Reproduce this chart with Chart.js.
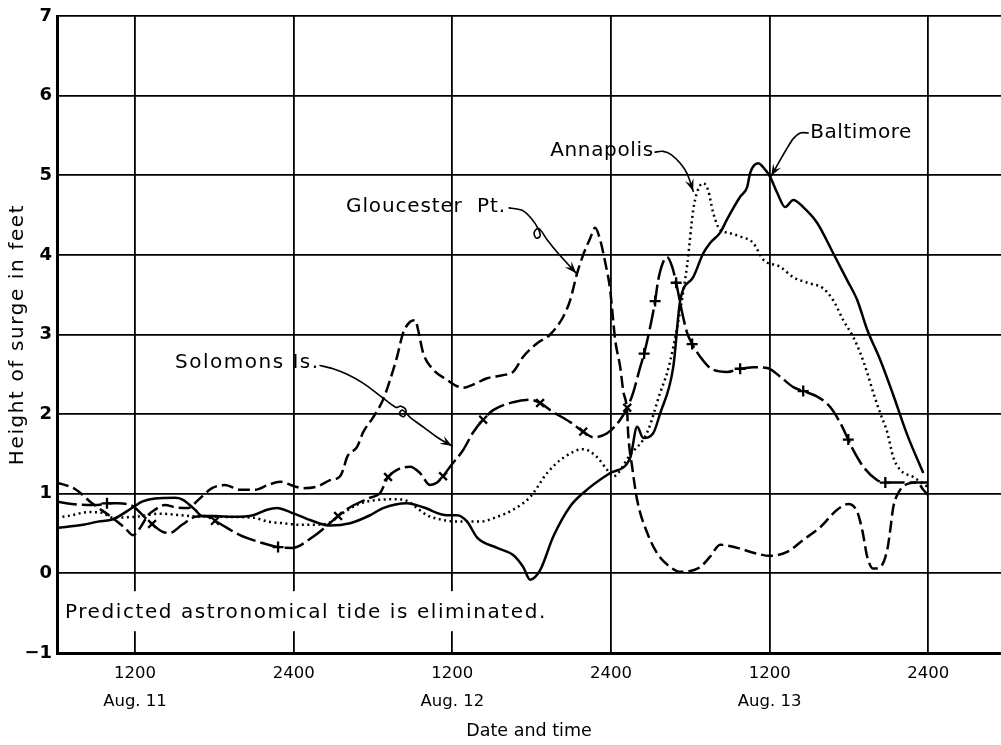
<!DOCTYPE html>
<html><head><meta charset="utf-8">
<script src="https://cdn.jsdelivr.net/npm/chart.js@4.4.1/dist/chart.umd.min.js"></script>
<style>html,body{margin:0;padding:0;background:#fff;}canvas{display:block;}</style>
</head><body>
<canvas id="c" width="1001" height="745"></canvas>
<script>
// ---- data (hours from 0000 Aug 11, height of surge in feet) ----
const hourTicks = [12, 24, 36, 48, 60, 72];
const timeLabels = ['1200', '2400', '1200', '2400', '1200', '2400'];
const dateLabels = ['Aug. 11', '', 'Aug. 12', '', 'Aug. 13', ''];
const yTicks = [-1, 0, 1, 2, 3, 4, 5, 6, 7];

const gloucester = [[6.10,1.14],[7.46,1.06],[8.75,0.88],[10.11,0.72],[11.24,0.57],[11.85,0.48],[12.38,0.57],[12.98,0.73],[13.51,0.80],[14.27,0.86],[15.03,0.83],[16.01,0.82],[16.77,0.92],[17.83,1.07],[18.81,1.11],[19.94,1.05],[21.08,1.05],[22.06,1.11],[22.97,1.15],[24.11,1.09],[24.71,1.07],[25.77,1.09],[26.75,1.17],[27.51,1.22],[27.74,1.30],[28.04,1.46],[28.80,1.59],[29.25,1.77],[30.01,1.96],[30.76,2.18],[31.29,2.43],[31.82,2.72],[32.28,3.02],[32.81,3.16],[33.19,3.18],[33.41,3.06],[33.79,2.77],[34.55,2.56],[35.61,2.43],[36.36,2.35],[36.82,2.33],[37.57,2.37],[38.63,2.45],[39.84,2.49],[40.60,2.53],[41.36,2.72],[42.42,2.89],[43.40,3.00],[44.38,3.22],[44.91,3.43],[45.44,3.77],[45.90,4.00],[46.43,4.21],[46.80,4.34],[47.18,4.19],[47.56,3.91],[47.94,3.56],[48.09,3.31],[48.32,2.93],[48.70,2.59],[48.92,2.30],[49.23,2.01],[49.30,1.76],[49.60,1.34],[49.98,0.92],[50.74,0.51],[51.50,0.25],[52.48,0.08],[53.24,0.02],[53.99,0.03],[54.75,0.08],[55.50,0.21],[56.26,0.36],[57.55,0.32],[58.76,0.26],[60.04,0.22],[61.33,0.27],[62.54,0.42],[63.83,0.58],[65.11,0.80],[65.95,0.87],[66.63,0.77],[67.01,0.54],[67.38,0.21],[67.84,0.06],[68.37,0.08],[68.90,0.30],[69.12,0.54],[69.35,0.83],[69.73,1.01],[70.26,1.11],[71.17,1.14],[71.62,1.05],[72.00,0.98]];

const solomons = [[6.10,0.90],[7.23,0.87],[8.44,0.86],[9.20,0.86],[9.88,0.88],[10.64,0.88],[11.77,0.85],[12.76,0.70],[13.29,0.62],[14.12,0.52],[14.65,0.51],[15.56,0.61],[16.54,0.71],[17.30,0.72],[18.05,0.66],[19.94,0.48],[21.46,0.39],[22.82,0.33],[23.88,0.32],[25.47,0.46],[26.60,0.61],[27.36,0.72],[28.27,0.83],[29.78,0.95],[30.54,1.01],[31.14,1.21],[31.82,1.30],[32.81,1.34],[33.56,1.26],[34.32,1.11],[34.85,1.14],[35.30,1.22],[35.83,1.34],[36.82,1.55],[37.57,1.77],[38.33,1.93],[39.09,2.05],[40.60,2.15],[41.89,2.18],[42.64,2.14],[43.40,2.05],[44.91,1.90],[45.90,1.78],[46.65,1.71],[47.71,1.76],[48.70,1.93],[49.23,2.08],[49.68,2.27],[50.21,2.59],[50.51,2.76],[51.12,3.22],[51.34,3.42],[51.57,3.68],[51.95,3.91],[52.25,3.97],[52.63,3.85],[52.93,3.65],[53.39,3.27],[53.76,3.02],[54.14,2.88],[54.75,2.72],[55.50,2.58],[56.79,2.53],[57.77,2.57],[58.76,2.59],[59.82,2.58],[60.80,2.47],[61.79,2.34],[62.54,2.29],[63.60,2.22],[64.58,2.09],[65.34,1.89],[65.95,1.68],[66.32,1.55],[67.08,1.34],[68.14,1.17],[68.75,1.14],[69.50,1.14],[72.00,1.14]];
const solomonsPlus = [[9.88,0.88],[22.82,0.33],[50.51,2.76],[51.34,3.42],[52.93,3.65],[54.14,2.88],[57.77,2.57],[62.54,2.29],[65.95,1.68],[68.75,1.14]];
const solomonsCross = [[13.29,0.62],[18.05,0.66],[27.36,0.72],[31.14,1.21],[35.30,1.22],[38.33,1.93],[42.64,2.14],[45.90,1.78],[49.23,2.08]];

const annapolis = [[6.10,0.70],[7.23,0.73],[8.44,0.77],[9.50,0.76],[10.34,0.70],[12.00,0.71],[13.89,0.75],[16.16,0.72],[18.43,0.71],[20.93,0.70],[22.06,0.65],[23.20,0.63],[24.48,0.61],[26.38,0.62],[27.74,0.76],[28.80,0.86],[29.78,0.91],[31.82,0.93],[32.58,0.91],[33.34,0.82],[34.09,0.73],[35.30,0.67],[36.36,0.65],[38.10,0.65],[39.39,0.71],[40.60,0.80],[41.89,0.96],[43.17,1.26],[44.38,1.45],[45.90,1.56],[46.95,1.46],[47.71,1.30],[48.17,1.22],[49.45,1.49],[50.74,1.77],[51.72,2.27],[52.25,2.52],[52.71,2.84],[53.24,3.31],[53.76,3.87],[54.22,4.56],[54.52,4.79],[54.98,4.90],[55.35,4.81],[55.73,4.53],[56.26,4.31],[56.79,4.28],[57.77,4.23],[58.76,4.15],[59.52,3.94],[60.80,3.85],[61.79,3.72],[62.84,3.65],[64.05,3.58],[64.81,3.43],[65.57,3.18],[66.32,2.97],[66.85,2.77],[67.38,2.52],[67.84,2.27],[68.37,2.01],[68.90,1.77],[69.35,1.46],[69.88,1.30],[70.86,1.21],[71.92,1.09]];

const baltimore = [[6.10,0.57],[8.07,0.61],[9.20,0.65],[10.34,0.68],[11.85,0.83],[12.53,0.90],[13.51,0.94],[15.03,0.95],[15.56,0.93],[16.54,0.80],[17.07,0.72],[18.05,0.72],[19.41,0.71],[20.93,0.73],[21.99,0.80],[22.74,0.82],[23.73,0.77],[25.24,0.67],[26.75,0.60],[28.27,0.63],[29.78,0.73],[30.76,0.82],[32.58,0.88],[33.79,0.83],[35.61,0.73],[36.36,0.73],[37.12,0.65],[37.88,0.45],[39.39,0.32],[40.60,0.23],[41.36,0.08],[41.89,-0.08],[42.64,0.04],[43.63,0.46],[44.91,0.84],[45.90,1.01],[47.94,1.26],[49.45,1.45],[49.98,1.84],[50.44,1.70],[51.19,1.76],[51.72,2.01],[52.71,2.59],[53.24,3.43],[54.22,3.72],[54.98,4.02],[55.50,4.15],[56.26,4.28],[56.79,4.45],[57.77,4.73],[58.30,4.85],[58.53,5.03],[59.14,5.15],[59.52,5.10],[60.04,4.98],[60.57,4.78],[61.18,4.60],[61.79,4.69],[62.54,4.60],[63.60,4.40],[64.81,4.02],[65.87,3.68],[66.63,3.43],[67.38,3.06],[68.37,2.68],[69.35,2.24],[70.41,1.74],[71.62,1.26]];

// ---- annotations (in data units) ----
const FONT = '"DejaVu Sans", "Liberation Sans", sans-serif';
const stationLabels = [
  {text: 'Gloucester  Pt.', from: 27.96, to: 39.99, at: 4.60},
  {text: 'Annapolis', from: 43.40, to: 51.19, at: 5.31},
  {text: 'Baltimore', from: 63.07, to: 70.72, at: 5.53},
  {text: 'Solomons Is.', from: 15.03, to: 25.85, at: 2.64}
];
const tideNote = {text: 'Predicted astronomical tide is eliminated.', from: 6.70, to: 43.02, at: -0.50};
const arrows = [
  [[40.30,4.59],[41.28,4.56],[41.96,4.46],[42.49,4.33],[42.64,4.24],[42.34,4.21],[42.19,4.28],[42.57,4.33],[43.17,4.19],[44.00,4.02],[45.37,3.77]],
  [[51.34,5.29],[51.95,5.30],[52.55,5.26],[53.24,5.15],[53.76,5.02],[54.22,4.80]],
  [[62.92,5.53],[62.31,5.53],[61.79,5.46],[61.25,5.32],[60.73,5.17],[60.12,4.99]],
  [[26.00,2.61],[26.98,2.57],[28.04,2.50],[29.25,2.39],[30.54,2.23],[31.67,2.09],[32.10,2.10],[32.50,2.05],[32.35,1.97],[32.00,2.00],[32.25,2.05],[32.81,1.96],[33.87,1.83],[34.85,1.71],[35.98,1.60]]
];

function fitText(ctx, text, x0, x1, y, size) {
  ctx.save();
  ctx.font = size + 'px ' + FONT;
  ctx.fillStyle = '#000';
  ctx.textAlign = 'left';
  ctx.textBaseline = 'middle';
  const hasLS = ('letterSpacing' in ctx);
  if (hasLS) ctx.letterSpacing = '0px';
  const w = ctx.measureText(text).width;
  if (hasLS) {
    const ls = (x1 - x0 - w) / (text.length - 1);
    ctx.letterSpacing = ls.toFixed(2) + 'px';
  }
  ctx.fillText(text, x0, y);
  ctx.restore();
}
function curve(ctx, pts) {
  ctx.beginPath();
  ctx.moveTo(pts[0][0], pts[0][1]);
  for (let i = 0; i < pts.length - 1; i++) {
    const p0 = pts[i - 1] || pts[i], p1 = pts[i], p2 = pts[i + 1], p3 = pts[i + 2] || p2;
    ctx.bezierCurveTo(p1[0] + (p2[0] - p0[0]) / 6, p1[1] + (p2[1] - p0[1]) / 6,
                      p2[0] - (p3[0] - p1[0]) / 6, p2[1] - (p3[1] - p1[1]) / 6, p2[0], p2[1]);
  }
  ctx.stroke();
}
const annot = {
  id: 'annot',
  afterLayout(chart) {
    const s = chart.scales.y;
    if (s && !s._spaced) {
      const orig = s.drawTitle;
      s.drawTitle = function () {
        const c = this.ctx;
        const has = ('letterSpacing' in c);
        const prev = has ? c.letterSpacing : null;
        if (has) c.letterSpacing = '1.6px';
        orig.apply(this, arguments);
        if (has) c.letterSpacing = prev;
      };
      s._spaced = true;
    }
  },
  beforeDatasetsDraw(chart) {
    const {ctx, scales: {x, y}} = chart;
    const x0 = x.getPixelForValue(tideNote.from), x1 = x.getPixelForValue(tideNote.to);
    const yc = y.getPixelForValue(tideNote.at);
    ctx.save();
    ctx.fillStyle = '#fff';
    ctx.fillRect(x0 - 4, yc - 22, x1 - x0 + 10, 40);
    ctx.restore();
    fitText(ctx, tideNote.text, x0, x1, yc, 20);
  },
  afterDatasetsDraw(chart) {
    const {ctx, scales: {x, y}} = chart;
    stationLabels.forEach(l => fitText(ctx, l.text, x.getPixelForValue(l.from), x.getPixelForValue(l.to), y.getPixelForValue(l.at), 20));
    ctx.save();
    ctx.strokeStyle = '#000'; ctx.fillStyle = '#000';
    ctx.lineWidth = 1.6; ctx.lineJoin = 'round'; ctx.lineCap = 'round';
    arrows.forEach(a => {
      const pts = a.map(p => [x.getPixelForValue(p[0]), y.getPixelForValue(p[1])]);
      curve(ctx, pts);
      const n = pts.length, tip = pts[n - 1], prev = pts[n - 2];
      const ang = Math.atan2(tip[1] - prev[1], tip[0] - prev[0]);
      const L = 12, W = 4.5;
      ctx.beginPath();
      ctx.moveTo(tip[0], tip[1]);
      ctx.lineTo(tip[0] - L * Math.cos(ang) + W * Math.sin(ang), tip[1] - L * Math.sin(ang) - W * Math.cos(ang));
      ctx.lineTo(tip[0] - 0.6 * L * Math.cos(ang), tip[1] - 0.6 * L * Math.sin(ang));
      ctx.lineTo(tip[0] - L * Math.cos(ang) - W * Math.sin(ang), tip[1] - L * Math.sin(ang) + W * Math.cos(ang));
      ctx.closePath();
      ctx.fill();
    });
    ctx.restore();
  }
};

const toXY = a => a.map(p => ({x: p[0], y: p[1]}));
const lineDs = (label, arr, dash) => ({
  label, data: toXY(arr), borderColor: '#000', borderWidth: 2.5, borderDash: dash,
  pointRadius: 0, fill: false, cubicInterpolationMode: 'monotone'
});
const markDs = (label, arr, style) => ({
  label, data: toXY(arr), showLine: false, pointStyle: style, pointRadius: 5.5,
  pointBorderWidth: 2.3, pointBorderColor: '#000', pointBackgroundColor: '#000'
});

new Chart(document.getElementById('c'), {
  type: 'line',
  data: {
    datasets: [
      lineDs('Gloucester Pt.', gloucester, [12, 5]),
      lineDs('Solomons Is.', solomons, [20, 5]),
      lineDs('Annapolis', annapolis, [2, 3.5]),
      lineDs('Baltimore', baltimore, []),
      markDs('Solomons Is. (+)', solomonsPlus, 'cross'),
      markDs('Solomons Is. (x)', solomonsCross, 'crossRot')
    ]
  },
  options: {
    responsive: false,
    animation: false,
    devicePixelRatio: 1,
    layout: {autoPadding: false, padding: {top: 16, right: 0, left: 0, bottom: 0}},
    plugins: {legend: {display: false}, tooltip: {enabled: false}},
    scales: {
      x: {
        type: 'linear', min: 6.1, max: 77.5,
        afterBuildTicks: s => { s.ticks = hourTicks.map(v => ({value: v})); },
        afterFit: s => { s.height = 92; },
        grid: {color: '#000', lineWidth: 1.8, drawTicks: false},
        border: {color: '#000', width: 3},
        ticks: {
          autoSkip: false, maxRotation: 0, padding: 7, color: '#000',
          font: {family: FONT, size: 16.5, lineHeight: 1.7},
          callback: (v, i) => dateLabels[i] ? [timeLabels[i], dateLabels[i]] : timeLabels[i]
        },
        title: {display: true, text: 'Date and time', color: '#000',
          font: {family: FONT, size: 17.5}, padding: {top: 4, bottom: 3}}
      },
      y: {
        min: -1, max: 7,
        afterBuildTicks: s => { s.ticks = yTicks.map(v => ({value: v})); },
        afterFit: s => { s.width = 57; },
        grid: {color: '#000', lineWidth: 1.8, drawTicks: false},
        border: {color: '#000', width: 3},
        ticks: {padding: 5, color: '#000', font: {family: FONT, size: 18, weight: 'bold'},
          callback: v => (v < 0 ? '\u2212' + Math.abs(v) : String(v))},
        title: {display: true, text: 'Height of surge in feet', color: '#000',
          font: {family: FONT, size: 20}, padding: {top: 6, bottom: 0}}
      }
    }
  },
  plugins: [annot]
});
</script>
</body></html>
